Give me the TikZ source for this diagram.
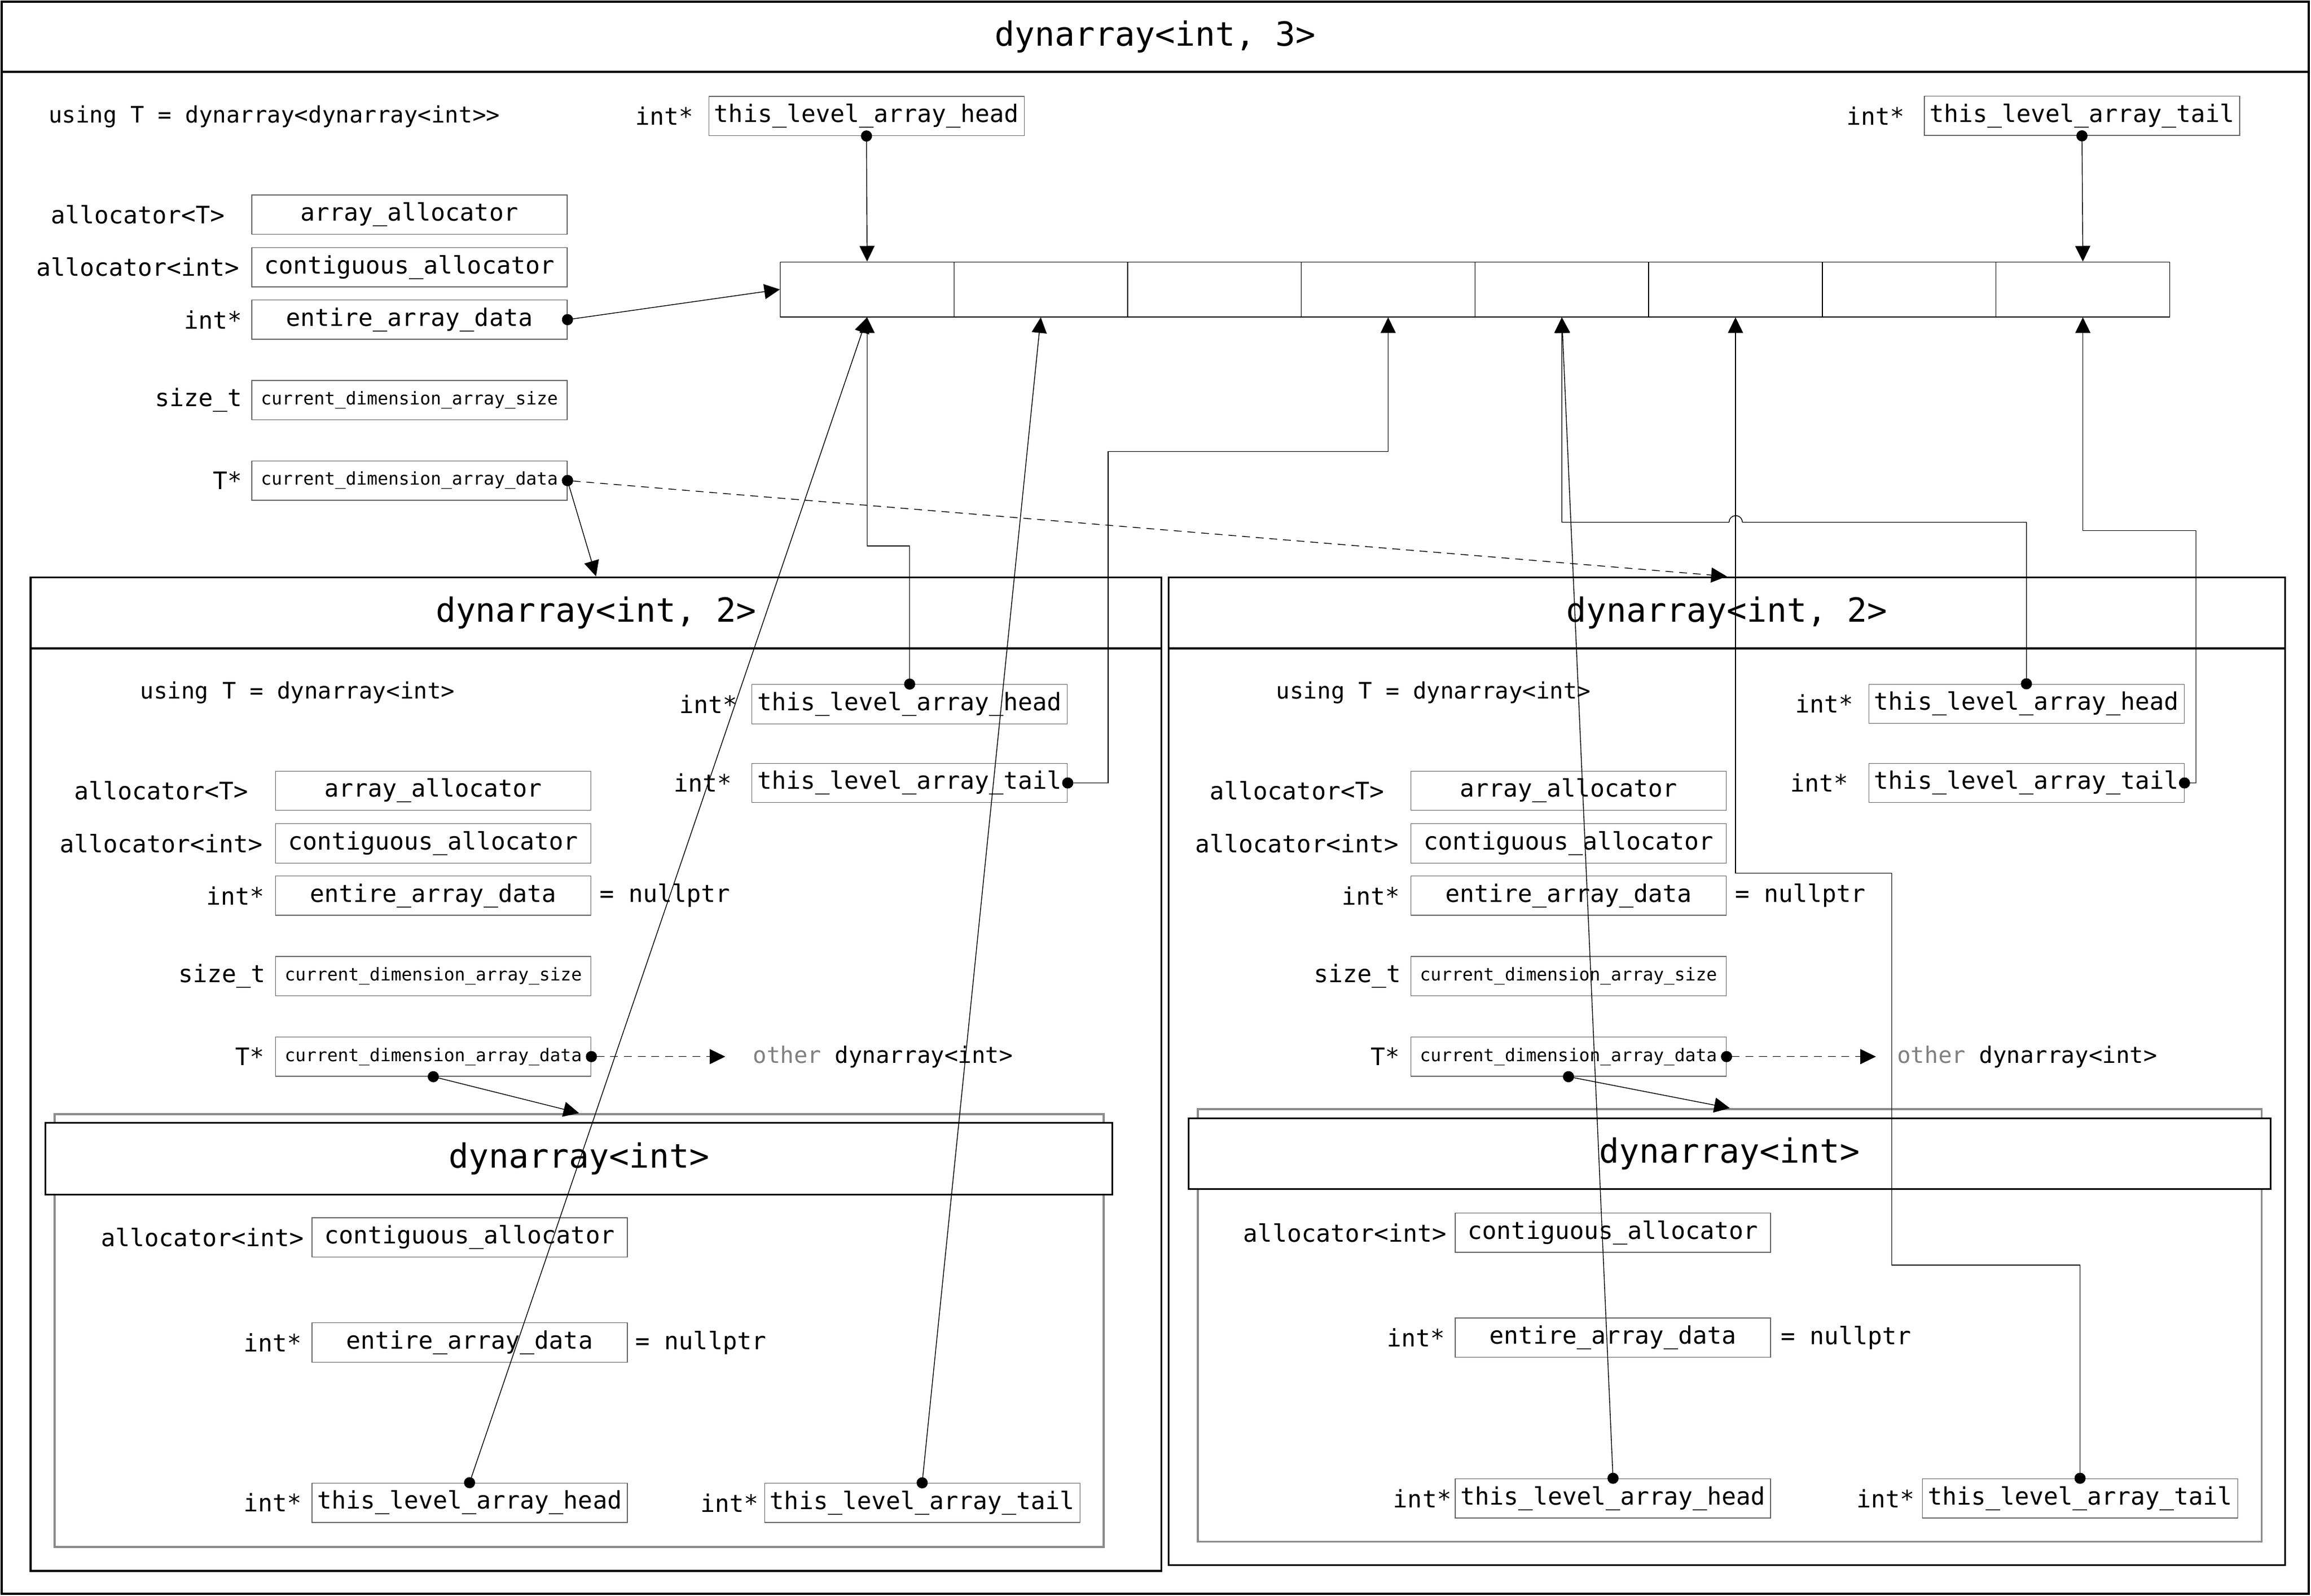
\documentclass[tikz,border=0pt]{standalone}
\usepackage{fontspec}
\usetikzlibrary{arrows.meta, fit}
\newfontfamily\codefont{DejaVu Sans Mono}
\newcommand{\fnTitle}{\codefont\fontsize{17pt}{20pt}\selectfont}
\newcommand{\fnField}{\codefont\fontsize{12.3pt}{14pt}\selectfont}
\newcommand{\fnNote}{\codefont\fontsize{11.6pt}{14pt}\selectfont}
\newcommand{\fnSmall}{\codefont\fontsize{9pt}{11pt}\selectfont}

\begin{document}
\begin{tikzpicture}[x=0.26454mm, y=-0.26454mm,
    bigframe/.style={draw, line width=1.2pt, inner sep=0pt},
    frame/.style={draw, line width=0.9pt, inner sep=0pt},
    subframe/.style={draw=black!45, line width=1pt, inner sep=0pt},
    titlebar/.style={draw, fill=white, line width=0.9pt, inner sep=0pt},
    title/.style={inner sep=0pt, font=\fnTitle},
    field/.style={draw=black!60, fill=white, line width=0.4pt, minimum width=56.6mm, minimum height=7.05mm, inner sep=0pt, font=\fnField},
    sfield/.style={field, font=\fnSmall},
    cell/.style={draw, line width=0.4pt, minimum width=31.17mm, minimum height=9.87mm, inner sep=0pt},
    lbl/.style={inner sep=0pt, font=\fnField},
    note/.style={inner sep=0pt, font=\fnNote},
    ptr/.style={line width=0.4pt, {Circle[length=2mm]}-{Triangle[length=2.8mm, width=2.7mm]}, shorten <=-1mm},
    weak/.style={ptr, dash pattern=on 4pt off 3pt}
  ]
  \useasboundingbox (0,0) rectangle (1568,1083);

  % dynarray<int, 3>
  \node[bigframe, fit={(1,1) (1566.5,1081.5)}] (dyn3) {};
  \node[bigframe, fit={(1,1) (1566.5,48.8)}] (dyn3bar) {};
  \node[title] (dyn3title) at (dyn3bar.center) {dynarray<int, 3>};
  \node[note, anchor=west] (using3) at (32.7,79) {using T = dynarray<dynarray<int>{}>};
  % members
  \node[field] (alloc3) at (277.8,145.7) {array\_allocator};
  \node[field] (contig3) at (277.8,181.3) {contiguous\_allocator};
  \node[field] (entire3) at (277.8,216.9) {entire\_array\_data};
  \node[sfield] (size3) at (277.8,271.5) {current\_dimension\_array\_size};
  \node[sfield] (cdad3) at (277.8,326.1) {current\_dimension\_array\_data};
  \node[field] (head3) at (587.9,78.7) {this\_level\_array\_head};
  \node[field] (tail3) at (1412.6,78.6) {this\_level\_array\_tail};
  % types
  \node[lbl] (talloc3) at (93.7,145.7) {allocator<T>};
  \node[lbl] (tcontig3) at (93.5,181.3) {allocator<int>};
  \node[lbl, anchor=east] (tentire3) at (164.5,216.9) {int*};
  \node[lbl, anchor=east] (tsize3) at (164.5,271.5) {size\_t};
  \node[lbl, anchor=east] (tcdad3) at (164.5,326.1) {T*};
  \node[lbl, anchor=east] (thead3) at (470.8,78.7) {int*};
  \node[lbl, anchor=east] (ttail3) at (1292.6,78.6) {int*};

  % Array
  \foreach \i in {1,...,8}
    \node[cell] (cell\i) at ({529.4+117.84*(\i-0.5)},196.4) {};

  % Left dynarray<int, 2>
  \node[frame, fit={(20.8,391.7) (788,1066)}] (dynL) {};
  \node[frame, fit={(20.8,391.7) (788,440)}] (dynLbar) {};
  \node[title] (dynLtitle) at (dynLbar.center) {dynarray<int, 2>};
  \node[note, anchor=west] (usingL) at (94.9,469.9) {using T = dynarray<int>};
  \node[field] (headL) at (617.2,477.8) {this\_level\_array\_head};
  \node[field] (tailL) at (617.2,531.3) {this\_level\_array\_tail};
  \node[field] (allocL) at (294,536.6) {array\_allocator};
  \node[field] (contigL) at (294,572.3) {contiguous\_allocator};
  \node[field] (entireL) at (294,607.8) {entire\_array\_data};
  \node[sfield] (sizeL) at (294,662.4) {current\_dimension\_array\_size};
  \node[sfield] (cdadL) at (294,717) {current\_dimension\_array\_data};
  \node[lbl, anchor=east] (theadL) at (500.5,477.8) {int*};
  \node[lbl, anchor=east] (ttailL) at (496.7,531.3) {int*};
  \node[lbl] (tallocL) at (109.4,536.6) {allocator<T>};
  \node[lbl] (tcontigL) at (109.4,572.3) {allocator<int>};
  \node[lbl, anchor=east] (tentireL) at (179.8,607.8) {int*};
  \node[lbl, anchor=east] (tsizeL) at (180.4,662.4) {size\_t};
  \node[lbl, anchor=east] (tcdadL) at (179.8,717) {T*};
  \node[lbl, anchor=west] (nullL) at (406.7,607.8) {= nullptr};
  \node[note, anchor=west] (otherL) at (510.6,717) {{\color{black!50}other} dynarray<int>};
  % left dynarray<int>
  \node[subframe, fit={(37,756) (748.8,1049.8)}] (subL) {};
  \node[titlebar, fit={(30.9,762) (754.8,810.5)}] (subLbar) {};
  \node[title] (subLtitle) at (subLbar.center) {dynarray<int>};
  \node[field] (contigLi) at (318.6,839.6) {contiguous\_allocator};
  \node[field] (entireLi) at (318.6,911) {entire\_array\_data};
  \node[field] (headLi) at (318.6,1019.7) {this\_level\_array\_head};
  \node[field] (tailLi) at (625.7,1019.8) {this\_level\_array\_tail};
  \node[lbl, anchor=east] (tcontigLi) at (206.5,839.6) {allocator<int>};
  \node[lbl, anchor=east] (tentireLi) at (205,911) {int*};
  \node[lbl, anchor=east] (theadLi) at (205,1019.7) {int*};
  \node[lbl, anchor=east] (ttailLi) at (514.9,1019.8) {int*};
  \node[lbl, anchor=west] (nullLi) at (431,911) {= nullptr};

  % Right dynarray<int, 2>
  \node[frame, fit={(792.8,391.7) (1550.4,1062)}] (dynR) {};
  \node[frame, fit={(792.8,391.7) (1550.4,440)}] (dynRbar) {};
  \node[title] (dynRtitle) at (dynRbar.center) {dynarray<int, 2>};
  \node[note, anchor=west] (usingR) at (865.7,469.9) {using T = dynarray<int>};
  \node[field] (headR) at (1374.9,477.6) {this\_level\_array\_head};
  \node[field] (tailR) at (1374.9,531.3) {this\_level\_array\_tail};
  \node[field] (allocR) at (1064.2,536.6) {array\_allocator};
  \node[field] (contigR) at (1064.2,572.3) {contiguous\_allocator};
  \node[field] (entireR) at (1064.2,607.8) {entire\_array\_data};
  \node[sfield] (sizeR) at (1064.2,662.4) {current\_dimension\_array\_size};
  \node[sfield] (cdadR) at (1064.2,717) {current\_dimension\_array\_data};
  \node[lbl, anchor=east] (theadR) at (1257.9,477.6) {int*};
  \node[lbl, anchor=east] (ttailR) at (1254.5,531.3) {int*};
  \node[lbl] (tallocR) at (880,536.6) {allocator<T>};
  \node[lbl] (tcontigR) at (880,572.3) {allocator<int>};
  \node[lbl, anchor=east] (tentireR) at (950.2,607.8) {int*};
  \node[lbl, anchor=east] (tsizeR) at (950.9,662.4) {size\_t};
  \node[lbl, anchor=east] (tcdadR) at (950.2,717) {T*};
  \node[lbl, anchor=west] (nullR) at (1177,607.8) {= nullptr};
  \node[note, anchor=west] (otherR) at (1287,717) {{\color{black!50}other} dynarray<int>};
  % right dynarray<int>
  \node[subframe, fit={(812.7,752.6) (1534.6,1046.2)}] (subR) {};
  \node[titlebar, fit={(806.6,758.7) (1540.6,806.9)}] (subRbar) {};
  \node[title] (subRtitle) at (subRbar.center) {dynarray<int>};
  \node[field] (contigRi) at (1094.4,836.5) {contiguous\_allocator};
  \node[field] (entireRi) at (1094.4,907.7) {entire\_array\_data};
  \node[field] (headRi) at (1094.4,1016.7) {this\_level\_array\_head};
  \node[field] (tailRi) at (1411.3,1016.7) {this\_level\_array\_tail};
  \node[lbl, anchor=east] (tcontigRi) at (981.7,836.5) {allocator<int>};
  \node[lbl, anchor=east] (tentireRi) at (980.7,907.7) {int*};
  \node[lbl, anchor=east] (theadRi) at (985,1016.7) {int*};
  \node[lbl, anchor=east] (ttailRi) at (1299.2,1016.7) {int*};
  \node[lbl, anchor=west] (nullRi) at (1208,907.7) {= nullptr};

  % Pointers of dynarray<int, 3>
  \draw[ptr] (head3.south) -- (cell1.north);
  \draw[ptr] (tail3.south) -- (cell8.north);
  \draw[ptr] (entire3.east) -- (cell1.west);
  \draw[ptr] (cdad3.east) -- (dynL.north);
  \draw[weak] (cdad3.east) -- (dynR.north);
  % Pointers of the left dynarray<int, 2>
  \draw[ptr] (headL.north) |- (cell1.south |- 0,370.5) -- (cell1.south);
  \draw[ptr] (tailL.east) -| (751.9,306.4) -| (cell4.south);
  \draw[weak, shorten >=4.9mm] (cdadL.east) -- (otherL.west);
  \draw[ptr] (cdadL.south) -- (subL.north);
  \draw[ptr] (headLi.north) -- (cell1.south);
  \draw[ptr] (tailLi.north) -- (cell2.south);
  % Pointers of the right dynarray<int, 2>
  \draw[ptr] (headR.north) |- (1182.2,354.4) arc[start angle=0, end angle=180, radius=1.2mm] -| (cell5.south);
  \draw[ptr] (tailR.east) -| (1490,360) -| (cell8.south);
  \draw[weak, shorten >=3.76mm] (cdadR.east) -- (otherR.west);
  \draw[ptr] (cdadR.south) -- (subR.north);
  \draw[ptr] (headRi.north) -- (cell5.south);
  \draw[ptr] (tailRi.north) |- (1283.5,858.5) |- (cell6.south |- 0,592.5) -- (cell6.south);
\end{tikzpicture}
\end{document}
